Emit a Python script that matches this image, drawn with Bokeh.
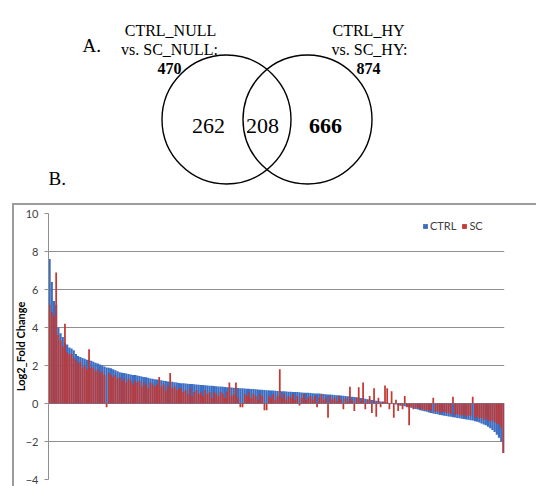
from bokeh.plotting import figure
from bokeh.layouts import column
from bokeh.models import Range1d, FixedTicker, Legend, LegendItem
from bokeh.core.properties import value
from bokeh.embed import file_html
from bokeh.resources import INLINE

# ---------------- data ----------------
set_names = ["CTRL_NULL", "CTRL_HY"]
set_vs = ["vs. SC_NULL:", "vs. SC_HY:"]
set_totals = [470, 874]
region_counts = [262, 208, 666]
region_bold = ["normal", "normal", "bold"]

series_names = ["CTRL", "SC"]
ctrl = [7.6, 6.4, 5.4, 5.2, 4.0, 3.7, 3.5, 3.2, 3.1, 2.95,
        2.9, 2.8, 2.6, 2.5, 2.45, 2.4, 2.35, 2.3, 2.3, 2.25,
        2.2, 2.15, 2.1, 2.05, 2.0, 1.95, 1.9, 1.88, 1.85, 1.8,
        1.75, 1.7, 1.65, 1.62, 1.6, 1.58, 1.55, 1.53, 1.5, 1.5,
        1.48, 1.45, 1.42, 1.4, 1.38, 1.35, 1.32, 1.3, 1.28, 1.26,
        1.24, 1.22, 1.2, 1.18, 1.16, 1.15, 1.14, 1.12, 1.1, 1.08,
        1.07, 1.06, 1.05, 1.04, 1.03, 1.02, 1.01, 1.0, 0.99, 0.98,
        0.97, 0.96, 0.95, 0.94, 0.93, 0.92, 0.91, 0.9, 0.89, 0.88,
        0.87, 0.86, 0.85, 0.84, 0.83, 0.82, 0.81, 0.8, 0.8, 0.79,
        0.78, 0.77, 0.76, 0.76, 0.75, 0.74, 0.73, 0.72, 0.71, 0.7,
        0.7, 0.69, 0.68, 0.67, 0.66, 0.66, 0.65, 0.64, 0.63, 0.62,
        0.62, 0.61, 0.6, 0.6, 0.59, 0.58, 0.57, 0.56, 0.56, 0.55,
        0.54, 0.53, 0.52, 0.52, 0.51, 0.5, 0.49, 0.48, 0.47, 0.46,
        0.45, 0.44, 0.43, 0.42, 0.41, 0.4, 0.38, 0.37, 0.36, 0.34,
        0.33, 0.31, 0.29, 0.27, 0.25, 0.23, 0.21, 0.19, 0.17, 0.15,
        0.13, 0.11, 0.09, 0.07, 0.05, 0.03, 0.01, -0.02, -0.05, -0.08,
        -0.1, -0.12, -0.15, -0.17, -0.2, -0.23, -0.26, -0.29, -0.32, -0.35,
        -0.38, -0.41, -0.44, -0.47, -0.5, -0.53, -0.55, -0.57, -0.6, -0.62,
        -0.64, -0.66, -0.68, -0.7, -0.72, -0.74, -0.76, -0.78, -0.8, -0.82,
        -0.84, -0.86, -0.88, -0.9, -0.93, -0.96, -1.0, -1.05, -1.1, -1.15,
        -1.22, -1.3, -1.4, -1.5, -1.65, -1.8, -2.0, -2.6]
sc = [5.2, 4.8, 4.6, 6.9, 3.6, 3.3, 3.0, 4.2, 2.7, 2.6,
      2.6, 2.4, 2.3, 2.1, 2.2, 1.9, 2.0, 1.8, 2.85, 1.9,
      1.9, 1.7, 1.8, 1.6, 1.7, 1.5, -0.2, 1.6, 1.5, 1.4,
      1.5, 1.3, 1.4, 1.2, 1.3, 1.1, 1.3, 1.2, 1.0, 1.2,
      1.1, 1.2, 0.9, 1.1, 1.0, 0.8, 1.1, 1.0, 0.9, 1.0,
      1.4, 0.9, 1.0, 0.7, 0.9, 1.6, 0.8, 0.9, 0.7, 0.8,
      0.8, 0.6, 0.7, 0.5, 0.8, 0.4, 0.6, 0.7, 0.5, 0.6,
      0.4, 0.7, 0.5, 0.6, 0.3, 0.6, 0.5, 0.4, 0.6, 0.5,
      0.3, 0.6, 1.1, 0.4, 0.5, 1.1, 0.3, -0.2, -0.2, 0.5,
      0.4, 0.6, 0.3, 0.5, 0.4, 0.2, 0.5, 0.4, -0.35, -0.35,
      0.4, 0.3, 0.5, 0.2, 0.4, 1.8, 0.3, 0.5, 0.2, 0.4,
      0.3, 0.5, 0.2, 0.4, -0.1, 0.3, 0.5, 0.2, 0.3, 0.4,
      0.2, 0.4, -0.2, 0.3, 0.5, 0.2, 0.3, -0.75, 0.4, 0.2,
      0.3, 0.1, 0.4, 0.2, -0.3, 0.3, 0.1, 0.88, 0.2, -0.4,
      0.3, 0.85, 0.1, 1.1, -0.3, 0.2, 0.4, -0.5, 0.8, -0.7,
      0.3, -0.2, 0.1, 0.95, 0.8, -0.3, 0.65, -0.75, 0.2, -0.4,
      -0.1, -0.3, 0.4, -0.2, -1.15, -0.2, -0.3, -0.2, -0.25, -0.3,
      -0.3, -0.35, -0.35, -0.4, -0.35, 0.3, -0.45, -0.4, -0.5, -0.45,
      -0.45, -0.5, -0.5, -0.55, 0.35, -0.6, -0.55, -0.6, -0.65, -0.6,
      -0.7, -0.65, -0.65, 0.35, -0.75, -0.7, -0.8, -0.75, -0.85, -0.8,
      -0.9, -0.95, -0.9, -1.0, -1.05, -1.1, -1.3, -2.6]
y_ticks = [-4, -2, 0, 2, 4, 6, 8, 10]
y_title = "Log2_Fold Change"

BLUE = "#3b6ec2"
RED = "#c23834"
BOX = "#9c9c9c"
SERIF = value("Liberation Serif")

# ---------------- A: Venn diagram ----------------
# same side borders as panel B, so the column's frame alignment changes nothing
top = figure(width=536, height=203, output_backend="svg", toolbar_location=None,
             x_range=Range1d(48, 504), y_range=Range1d(203, 0),
             x_axis_location=None, y_axis_location=None,
             min_border_left=48, min_border_right=32,
             min_border_top=0, min_border_bottom=0, outline_line_color=None)
top.grid.visible = False

top.circle(x=[226, 307], y=[119, 119], radius=64.5, fill_color=None,
           line_color="black", line_width=1.4)

top.text(x=[82], y=[45], text=["A."], text_font=SERIF, text_font_size="19px",
         text_align="left", text_baseline="alphabetic", text_color="black")
top.text(x=[48], y=[178], text=["B."], text_font=SERIF, text_font_size="19px",
         text_align="left", text_baseline="alphabetic", text_color="black")

top.text(x=[170, 368], y=[30, 30], text=set_names, text_font=SERIF,
         text_font_size="16px", text_align="center", text_baseline="alphabetic",
         text_color="black")
top.text(x=[169, 369], y=[49, 49], text=set_vs, text_font=SERIF,
         text_font_size="16px", text_align="center", text_baseline="alphabetic",
         text_color="black")
top.text(x=[169, 368], y=[68, 68], text=[str(t) for t in set_totals],
         text_font=SERIF, text_font_size="16px", text_font_style="bold",
         text_align="center", text_baseline="alphabetic", text_color="black")

top.text(x=[208, 262, 325], y=[125, 125, 125],
         text=[str(c) for c in region_counts],
         text_font=SERIF, text_font_size="22px", text_font_style=region_bold,
         text_align="center", text_baseline="alphabetic", text_color="black")

# ---------------- B: bar chart ----------------
n = len(ctrl)
idx = list(range(n))

# chart-area box drawn with inset shadows (no effect on layout sizes)
bot = figure(width=536, height=283, output_backend="svg", toolbar_location=None,
             x_range=Range1d(-0.5, n - 0.5), y_range=Range1d(-4, 10),
             x_axis_location=None, min_border_left=48, min_border_right=32,
             min_border_top=10, min_border_bottom=7, outline_line_color=None,
             border_fill_color=None, background_fill_color="white",
             styles={"box-shadow": "inset 12px 0 0 0 white, inset 14px 2px 0 0 " + BOX})

r_ctrl = bot.vbar(x=idx, top=ctrl, bottom=0, width=1.0, fill_color=BLUE,
                  line_color=None)
r_sc = bot.vbar(x=idx, top=sc, bottom=0, width=0.8, fill_color=RED,
                line_color=None)

bot.xgrid.visible = False
bot.ygrid.grid_line_color = "#8f8f8f"
bot.ygrid.grid_line_width = 1
bot.yaxis.ticker = FixedTicker(ticks=y_ticks)
bot.yaxis.axis_line_color = "#8f8f8f"
bot.yaxis.major_tick_line_color = "#8f8f8f"
bot.yaxis.major_tick_out = 4
bot.yaxis.major_tick_in = 0
bot.yaxis.minor_tick_line_color = None
bot.yaxis.major_label_text_font = "Lato"
bot.yaxis.major_label_text_font_size = "11px"
bot.yaxis.major_label_text_color = "#404040"
bot.yaxis.major_label_standoff = 6
bot.yaxis.axis_label = y_title
bot.yaxis.axis_label_text_font = "Lato"
bot.yaxis.axis_label_text_font_size = "11px"
bot.yaxis.axis_label_text_font_style = "bold"
bot.yaxis.axis_label_text_color = "black"
bot.yaxis.axis_label_standoff = -4

legend = Legend(items=[LegendItem(label=series_names[0], renderers=[r_ctrl]),
                       LegendItem(label=series_names[1], renderers=[r_sc])],
                orientation="horizontal", location=(374, 247),
                glyph_width=6, glyph_height=6, label_text_font="Lato",
                label_text_font_size="11px", label_text_color="#404040",
                label_standoff=2, spacing=5, padding=0, margin=0,
                border_line_color=None, background_fill_color=None,
                label_height=10)
bot.add_layout(legend)

layout = column(top, bot, spacing=0)
open("out.html", "w").write(file_html(layout, INLINE))
